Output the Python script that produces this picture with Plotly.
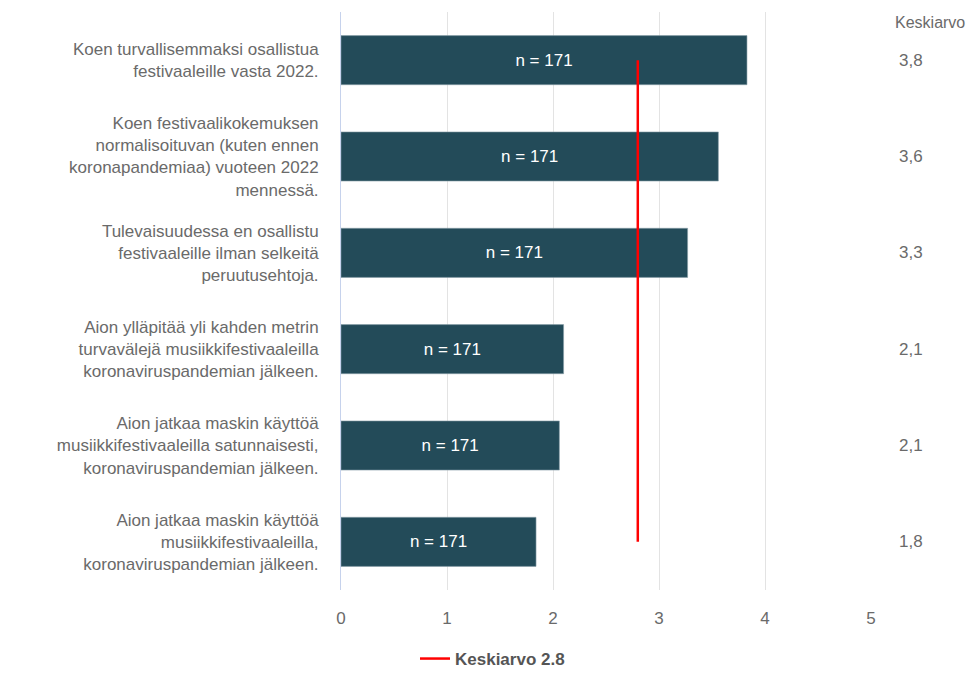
import plotly.graph_objects as go

categories = [
    "Koen turvallisemmaksi osallistua<br>festivaaleille vasta 2022.",
    "Koen festivaalikokemuksen<br>normalisoituvan (kuten ennen<br>koronapandemiaa) vuoteen 2022<br>mennessä.",
    "Tulevaisuudessa en osallistu<br>festivaaleille ilman selkeitä<br>peruutusehtoja.",
    "Aion ylläpitää yli kahden metrin<br>turvavälejä musiikkifestivaaleilla<br>koronaviruspandemian jälkeen.",
    "Aion jatkaa maskin käyttöä<br>musiikkifestivaaleilla satunnaisesti,<br>koronaviruspandemian jälkeen.",
    "Aion jatkaa maskin käyttöä<br>musiikkifestivaaleilla,<br>koronaviruspandemian jälkeen.",
]
values = [3.83, 3.56, 3.27, 2.10, 2.06, 1.84]
n_labels = ["n = 171"] * 6
mean_labels = ["3,8", "3,6", "3,3", "2,1", "2,1", "1,8"]
overall_mean = 2.8
header = "Keskiarvo"

GRAY = "#6a6a6a"
FONT = "Liberation Sans, Arial, sans-serif"

W, H = 969, 669          # page body adds an 8px offset
L, R, T, B = 333, 106, 4, 87
PW = W - L - R
PH = H - T - B

fig = go.Figure()
fig.add_trace(go.Bar(
    y=categories, x=values, orientation="h",
    marker=dict(color="#234b59", line=dict(color="#8aa0aa", width=0.6)),
    width=0.51,
    text=n_labels, textposition="inside", insidetextanchor="middle",
    textfont=dict(color="white", size=17, family=FONT),
    showlegend=False, hoverinfo="skip",
))
fig.add_trace(go.Scatter(
    y=[categories[0], categories[-1]], x=[overall_mean, overall_mean],
    mode="lines", line=dict(color="#ff0000", width=2.5),
    name="Keskiarvo 2.8", showlegend=True, hoverinfo="skip",
))

for c, m in zip(categories, mean_labels):
    fig.add_annotation(x=(911 - 8 - L) / PW, xref="paper", xanchor="center",
                       y=c, yref="y", text=m, showarrow=False,
                       font=dict(size=17, color=GRAY, family=FONT))

fig.add_annotation(x=(930 - 8 - L) / PW, xref="paper", xanchor="center",
                   y=1 - (22 - 8 - T) / PH, yref="paper", yanchor="middle",
                   text=header, showarrow=False,
                   font=dict(size=16, color=GRAY, family=FONT))

fig.update_layout(
    width=W, height=H,
    margin=dict(l=L, r=R, t=T, b=B),
    plot_bgcolor="white", paper_bgcolor="white",
    font=dict(family=FONT, color=GRAY, size=17),
    xaxis=dict(range=[0, 5], tickvals=[0, 1, 2, 3, 4, 5], showgrid=True,
               gridcolor="#e3e3e3", gridwidth=1, zeroline=False,
               tickfont=dict(size=17, color=GRAY), ticks="", showline=False,
               ticklabelstandoff=16),
    yaxis=dict(autorange="reversed", showgrid=False, showline=True,
               linecolor="#c6d2ec", linewidth=1, ticks="",
               tickfont=dict(size=17, color=GRAY), ticklabelstandoff=18),
    legend=dict(orientation="h", xref="container", x=0.5, xanchor="center",
                yref="container", y=0.0, yanchor="bottom",
                font=dict(size=17, color="#555555", family=FONT, weight="bold")),
)

fig.write_html("out.html")
